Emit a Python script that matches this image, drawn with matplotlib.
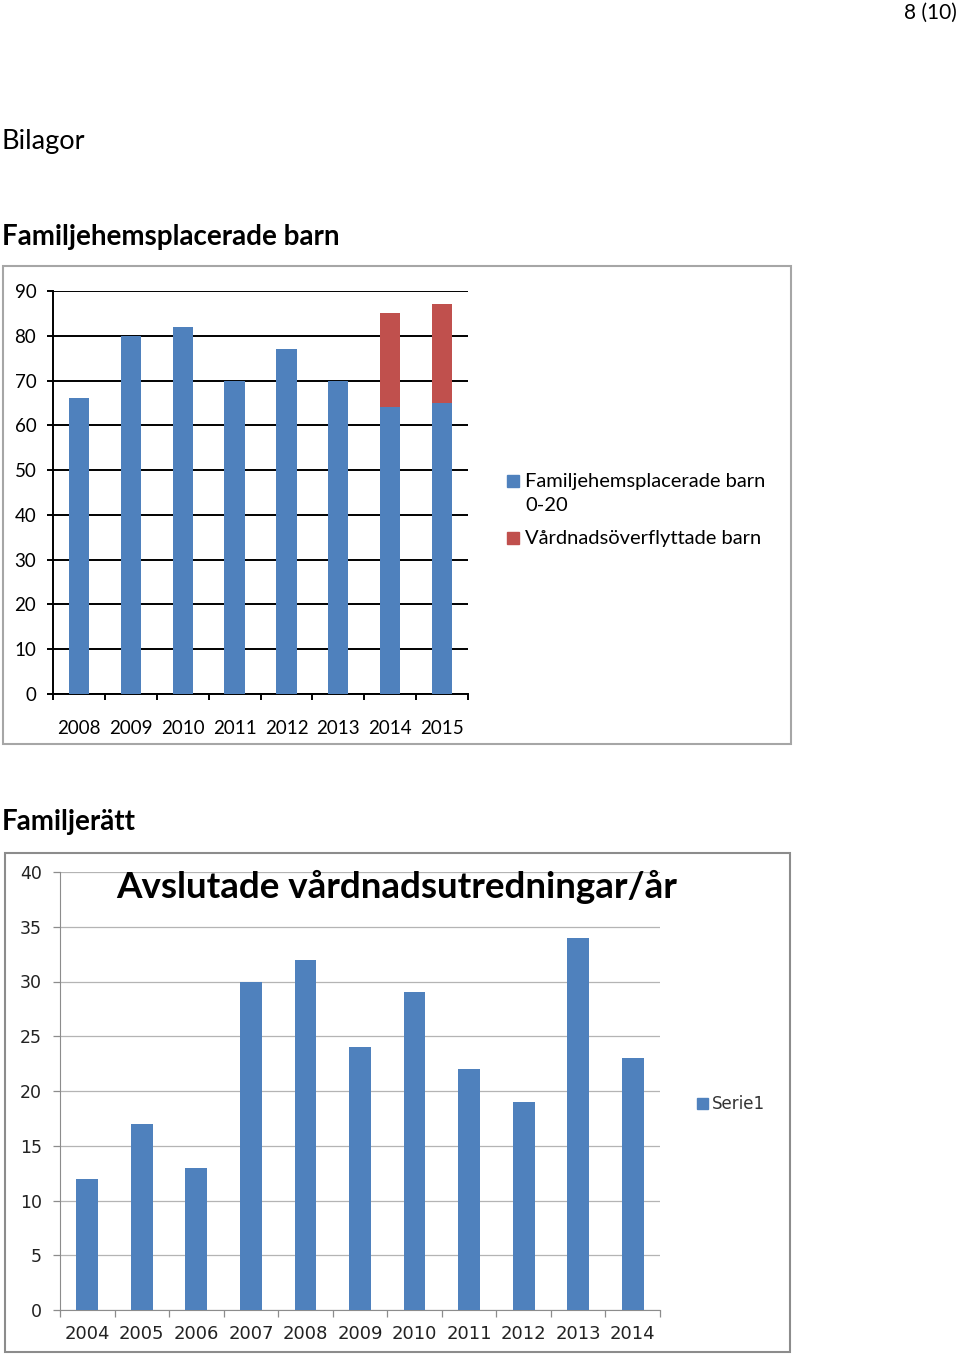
import matplotlib.pyplot as plt
from matplotlib.patches import Rectangle
import numpy as np

# data: chart 1
years1 = ['2008', '2009', '2010', '2011', '2012', '2013', '2014', '2015']
placerade = [66, 80, 82, 70, 77, 70, 64, 65]
overflyttade = [0, 0, 0, 0, 0, 0, 21, 22]
series1_names = ['Familjehemsplacerade barn\n0-20', 'Vårdnadsöverflyttade barn']

# data: chart 2
years2 = ['2004', '2005', '2006', '2007', '2008', '2009', '2010', '2011', '2012', '2013', '2014']
utredningar = [12, 17, 13, 30, 32, 24, 29, 22, 19, 34, 23]

BLUE = '#4F81BD'
RED = '#C0504D'
W, H = 960, 1354

plt.rcParams['font.family'] = ['Lato', 'DejaVu Sans']

fig = plt.figure(figsize=(W / 100, H / 100), dpi=100)


def fx(px):
    return px / W


def fy(py):
    return 1 - py / H


# page texts
fig.text(fx(957), fy(13), '8 (10)', ha='right', va='center', fontsize=15)
fig.text(fx(2), fy(142), 'Bilagor', ha='left', va='center', fontsize=19.5)
fig.text(fx(2), fy(237), 'Familjehemsplacerade barn', ha='left', va='center',
         fontsize=20, fontweight='bold')
fig.text(fx(2), fy(822), 'Familjerätt', ha='left', va='center',
         fontsize=20, fontweight='bold')

# chart frames
fig.patches.append(Rectangle((fx(3), fy(744)), fx(791) - fx(3), fy(266) - fy(744),
                             transform=fig.transFigure, fill=False,
                             edgecolor='#A6A6A6', linewidth=1.5))
fig.patches.append(Rectangle((fx(5), fy(1352)), fx(790) - fx(5), fy(853) - fy(1352),
                             transform=fig.transFigure, fill=False,
                             edgecolor='#8C8C8C', linewidth=1.5))

# ---- chart 1 ----
ax1 = fig.add_axes([fx(53), fy(694), fx(468) - fx(53), fy(291) - fy(694)])
x1 = np.arange(len(years1))
ax1.bar(x1, placerade, width=0.39, color=BLUE, zorder=3)
ax1.bar(x1, overflyttade, width=0.39, bottom=placerade, color=RED, zorder=3)
ax1.set_xlim(-0.5, len(years1) - 0.5)
ax1.set_ylim(0, 90)
ax1.set_yticks(range(0, 91, 10))
ax1.yaxis.grid(True, color='black', linewidth=1.4, zorder=0)
ax1.set_axisbelow(True)
ax1.set_xticks(np.arange(-0.5, len(years1)), minor=False)
ax1.set_xticklabels([])
ax1.set_xticks(x1, minor=True)
ax1.set_xticklabels(years1, minor=True, fontsize=13.5)
ax1.tick_params(axis='x', which='minor', length=0, pad=19)
ax1.tick_params(axis='x', which='major', length=4, width=1.4, direction='out')
ax1.tick_params(axis='y', length=4, width=1.4, pad=8, labelsize=13.5)
for lab in ax1.get_yticklabels():
    lab.set_va('center_baseline')
for s in ['top', 'right']:
    ax1.spines[s].set_visible(False)
ax1.spines['left'].set_linewidth(1.4)
ax1.spines['bottom'].set_linewidth(1.4)

# legend chart 1
for (name, col, ty) in zip(series1_names, [BLUE, RED], [481, 538]):
    fig.patches.append(Rectangle((fx(507), fy(ty + 6)), fx(12), fx(12) * W / H,
                                 transform=fig.transFigure, color=col))
    fig.text(fx(525), fy(ty - 8), name, ha='left', va='top', fontsize=14.5,
             linespacing=1.5)

# ---- chart 2 ----
ax2 = fig.add_axes([fx(60), fy(1310), fx(660) - fx(60), fy(872) - fy(1310)])
x2 = np.arange(len(years2))
ax2.bar(x2, utredningar, width=0.4, color=BLUE, zorder=3)
ax2.set_xlim(-0.5, len(years2) - 0.5)
ax2.set_ylim(0, 40)
ax2.set_yticks(range(0, 41, 5))
ax2.yaxis.grid(True, color='#B4B4B4', linewidth=0.9, zorder=0)
ax2.set_axisbelow(True)
ax2.set_xticks(np.arange(-0.5, len(years2)), minor=False)
ax2.set_xticklabels([])
ax2.set_xticks(x2, minor=True)
ax2.set_xticklabels(years2, minor=True, fontsize=13, family='DejaVu Sans',
                    color='#222222')
ax2.tick_params(axis='x', which='minor', length=0, pad=11)
ax2.tick_params(axis='x', which='major', length=5, width=0.9, color='#8C8C8C')
ax2.tick_params(axis='y', length=5, width=0.9, color='#8C8C8C', pad=8,
                labelsize=12.5, labelcolor='#222222')
for lab in ax2.get_yticklabels():
    lab.set_family('DejaVu Sans')
for s in ['top', 'right']:
    ax2.spines[s].set_visible(False)
ax2.spines['left'].set_color('#8C8C8C')
ax2.spines['bottom'].set_color('#8C8C8C')

fig.text(fx(397), fy(887), 'Avslutade vårdnadsutredningar/år', ha='center',
         va='center', fontsize=26.5, fontweight='bold')

# legend chart 2
fig.patches.append(Rectangle((fx(697), fy(1109)), fx(11), fx(11) * W / H,
                             transform=fig.transFigure, color=BLUE))
fig.text(fx(712), fy(1104), 'Serie1', ha='left', va='center', fontsize=12,
         family='DejaVu Sans', color='#333333')

fig.savefig('out.png', dpi=100)
